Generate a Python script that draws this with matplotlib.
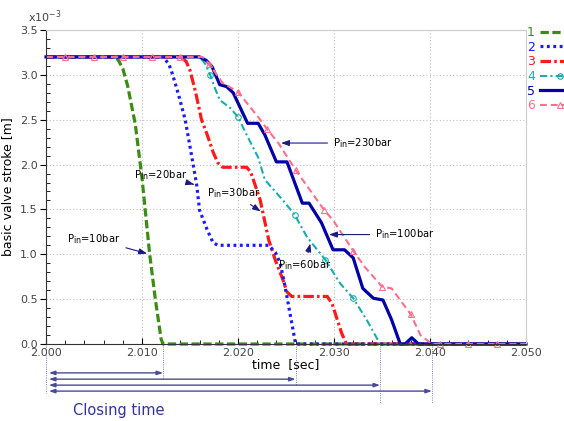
import matplotlib.pyplot as plt
import numpy as np
from matplotlib.ticker import MultipleLocator, FormatStrFormatter

# waktu [s] dan langkah katup [x1e-3 m] untuk tiap tekanan masuk
t1 = [2.000, 2.0070, 2.0075, 2.0080, 2.0085, 2.0093, 2.0100, 2.0108, 2.0114, 2.0120, 2.0122, 2.050]
s1 = [3.20, 3.20, 3.17, 3.07, 2.88, 2.45, 1.85, 1.00, 0.49, 0.05, 0.0, 0.0]

t2 = [2.000, 2.0122, 2.0128, 2.0132, 2.0138, 2.0145, 2.0152, 2.0157, 2.0160, 2.0168, 2.0174,
      2.0179, 2.0232, 2.0239, 2.0244, 2.0249, 2.0254, 2.0260, 2.050]
s2 = [3.20, 3.20, 3.12, 3.00, 2.78, 2.50, 2.08, 1.77, 1.49, 1.27, 1.13,
      1.10, 1.10, 1.02, 0.90, 0.64, 0.35, 0.0, 0.0]

t3 = [2.000, 2.0140, 2.0146, 2.0150, 2.0156, 2.0162, 2.0168, 2.0174, 2.0179, 2.0184, 2.0209,
      2.0213, 2.0216, 2.0223, 2.0226, 2.0232, 2.0239, 2.0247, 2.0251, 2.0256, 2.0293, 2.0298,
      2.0301, 2.0308, 2.0313, 2.050]
s3 = [3.20, 3.20, 3.15, 3.05, 2.80, 2.50, 2.33, 2.14, 2.02, 1.97, 1.97,
      1.92, 1.83, 1.61, 1.46, 1.16, 0.93, 0.71, 0.58, 0.53, 0.53, 0.45,
      0.35, 0.12, 0.0, 0.0]

t4 = [2.000, 2.0160, 2.0166, 2.0171, 2.0176, 2.0181, 2.0192, 2.0200, 2.0210, 2.0221, 2.0228,
      2.0247, 2.0259, 2.0272, 2.0291, 2.0306, 2.0320, 2.0334, 2.0348, 2.050]
s4 = [3.20, 3.20, 3.12, 3.00, 2.85, 2.72, 2.63, 2.53, 2.31, 2.08, 1.83,
      1.60, 1.44, 1.19, 0.94, 0.68, 0.51, 0.27, 0.0, 0.0]
m4 = [3, 7, 12, 14, 16]

t5 = [2.000, 2.0160, 2.0167, 2.0173, 2.0181, 2.0188, 2.0195, 2.0210, 2.0221, 2.0228, 2.0240,
      2.0251, 2.0267, 2.0274, 2.0287, 2.0299, 2.0311, 2.0320, 2.0330, 2.0341, 2.0351, 2.0360,
      2.0369, 2.0374, 2.0381, 2.0388, 2.050]
s5 = [3.20, 3.20, 3.16, 3.09, 2.89, 2.87, 2.80, 2.46, 2.46, 2.33, 2.03,
      2.03, 1.57, 1.57, 1.35, 1.05, 1.05, 0.96, 0.62, 0.51, 0.49, 0.27,
      0.0, 0.0, 0.07, 0.0, 0.0]

t6 = [2.000, 2.002, 2.005, 2.008, 2.011, 2.014, 2.0163, 2.017, 2.0184, 2.020, 2.0221,
      2.023, 2.0242, 2.026, 2.029, 2.0299, 2.032, 2.0332, 2.035, 2.036, 2.0371,
      2.038, 2.0390, 2.0402, 2.041, 2.044, 2.047, 2.050]
s6 = [3.20, 3.20, 3.20, 3.20, 3.20, 3.20, 3.20, 3.12, 2.91, 2.81, 2.53,
      2.40, 2.24, 1.94, 1.49, 1.38, 1.04, 0.86, 0.64, 0.62, 0.46,
      0.33, 0.10, 0.0, 0.0, 0.0, 0.0, 0.0]
m6 = [1, 2, 3, 4, 5, 7, 9, 11, 13, 14, 16, 18, 21, 24, 25, 26]

label_seri = ['1', '2', '3', '4', '5', '6']
warna = ['#3a8c12', '#1a1aff', '#ff1a1a', '#1aadad', '#0000a8', '#ff6e8c']

fig = plt.figure(figsize=(5.64, 4.21), dpi=100)
ax = fig.add_axes([46 / 564, 77 / 421, 480 / 564, 314 / 421])

l6, = ax.plot(t6, s6, color=warna[5], lw=1.5, dashes=(3.3, 1.9), marker='^', markevery=m6,
              ms=4, mfc='none', mec=warna[5], mew=0.8, clip_on=False, zorder=2.5)
l1, = ax.plot(t1, s1, color=warna[0], lw=2.3, dashes=(2.6, 1.1), clip_on=False, zorder=2.0)
l3, = ax.plot(t3, s3, color=warna[2], lw=2.3, dashes=(3.3, 1.0, 0.8, 1.0), clip_on=False, zorder=2.1)
l4, = ax.plot(t4, s4, color=warna[3], lw=1.5, dashes=(3.5, 1.5, 1.0, 1.5), marker='o', markevery=m4,
              ms=4, mfc='none', mec=warna[3], mew=0.8, clip_on=False, zorder=2.2)
l5, = ax.plot(t5, s5, color=warna[4], lw=2.3, clip_on=False, zorder=2.3)
l2, = ax.plot(t2, s2, color=warna[1], lw=2.3, dashes=(0.9, 1.1), clip_on=False, zorder=2.4)

ax.set_xlim(2.000, 2.050)
ax.set_ylim(0, 3.5)
ax.xaxis.set_major_locator(MultipleLocator(0.010))
ax.xaxis.set_minor_locator(MultipleLocator(0.002))
ax.yaxis.set_major_locator(MultipleLocator(0.5))
ax.yaxis.set_minor_locator(MultipleLocator(0.1))
ax.xaxis.set_major_formatter(FormatStrFormatter('%.3f'))
ax.yaxis.set_major_formatter(FormatStrFormatter('%.1f'))
ax.tick_params(axis='x', which='major', direction='in', length=4, labelsize=8, labelcolor='#444444', pad=3)
ax.tick_params(axis='x', which='minor', direction='in', length=3)
ax.tick_params(axis='y', which='major', direction='out', length=4, labelsize=8, labelcolor='#444444', pad=2)
ax.tick_params(axis='y', which='minor', direction='in', length=3)
ax.grid(True, which='major', ls=(0, (1, 2)), color='#c0c0c0', lw=0.8)
ax.set_axisbelow(True)
for sisi in ['top', 'right']:
    ax.spines[sisi].set_color('#cccccc')
for sisi in ['left', 'bottom']:
    ax.spines[sisi].set_color('#333333')

ax.set_xlabel('time  [sec]', fontsize=9, labelpad=0)
ax.set_ylabel('basic valve stroke [m]', fontsize=9, labelpad=4)
fig.text(28 / 564, 1 - 17 / 421, r'x10$^{-3}$', fontsize=8, color='#444444', va='center')

ax.legend([l1, l2, l3, l4, l5, l6], label_seri, loc='upper left', bbox_to_anchor=(1.002, 1.012),
          frameon=False, markerfirst=False, labelcolor='linecolor', fontsize=9,
          handlelength=3.2, handletextpad=0.4, labelspacing=0.13, borderaxespad=0, borderpad=0,
          numpoints=1)

# label tekanan masuk dengan panah
panah = dict(arrowstyle='-|>,head_length=0.6,head_width=0.22', color='#1a1a80', lw=0.8)
label_tekanan = [
    (r'P$_{\rm in}$=230bar', (t6[12], s6[12]), (2.0299, 2.24)),
    (r'P$_{\rm in}$=100bar', (2.0292, 1.22), (2.0343, 1.22)),
    (r'P$_{\rm in}$=60bar', (2.0276, 1.15), (2.0242, 0.88)),
    (r'P$_{\rm in}$=30bar', (2.0226, 1.46), (2.0168, 1.68)),
    (r'P$_{\rm in}$=20bar', (t2[7], s2[7]), (2.0092, 1.88)),
    (r'P$_{\rm in}$=10bar', (t1[7], s1[7]), (2.0022, 1.17)),
]
for teks, titik, posisi in label_tekanan:
    ax.annotate(teks, xy=titik, xytext=posisi, fontsize=8, fontstretch='condensed',
                ha='left', va='center', arrowprops=panah, zorder=5)

# waktu penutupan: saat langkah pertama kali nol
tr = ax.get_xaxis_transform()
waktu_tutup = []
for t, s in [(t1, s1), (t2, s2), (t4, s4), (t6, s6)]:
    waktu_tutup.append(t[s.index(0.0)])
y_panah = [-0.092, -0.112, -0.131, -0.150]
y_garis = [-0.108, -0.131, -0.188, -0.188]
ax.plot([2.000, 2.000], [0, -0.156], transform=tr, color='#5050a0', lw=0.6, ls=':', clip_on=False)
for wt, yp, yg in zip(waktu_tutup, y_panah, y_garis):
    ax.plot([wt, wt], [0, yg], transform=tr, color='#5050a0', lw=0.6, ls=':', clip_on=False)
    ax.annotate('', xy=(wt, yp), xytext=(2.0003, yp), xycoords=tr, textcoords=tr,
                annotation_clip=False,
                arrowprops=dict(arrowstyle='<|-|>,head_length=0.35,head_width=0.12',
                                color='#4a4a9a', lw=1.0, shrinkA=0, shrinkB=0))
fig.text(73 / 564, 1 - 410 / 421, 'Closing time', fontsize=10.5, color='#333399', va='center')

plt.savefig('out.png', dpi=100)
